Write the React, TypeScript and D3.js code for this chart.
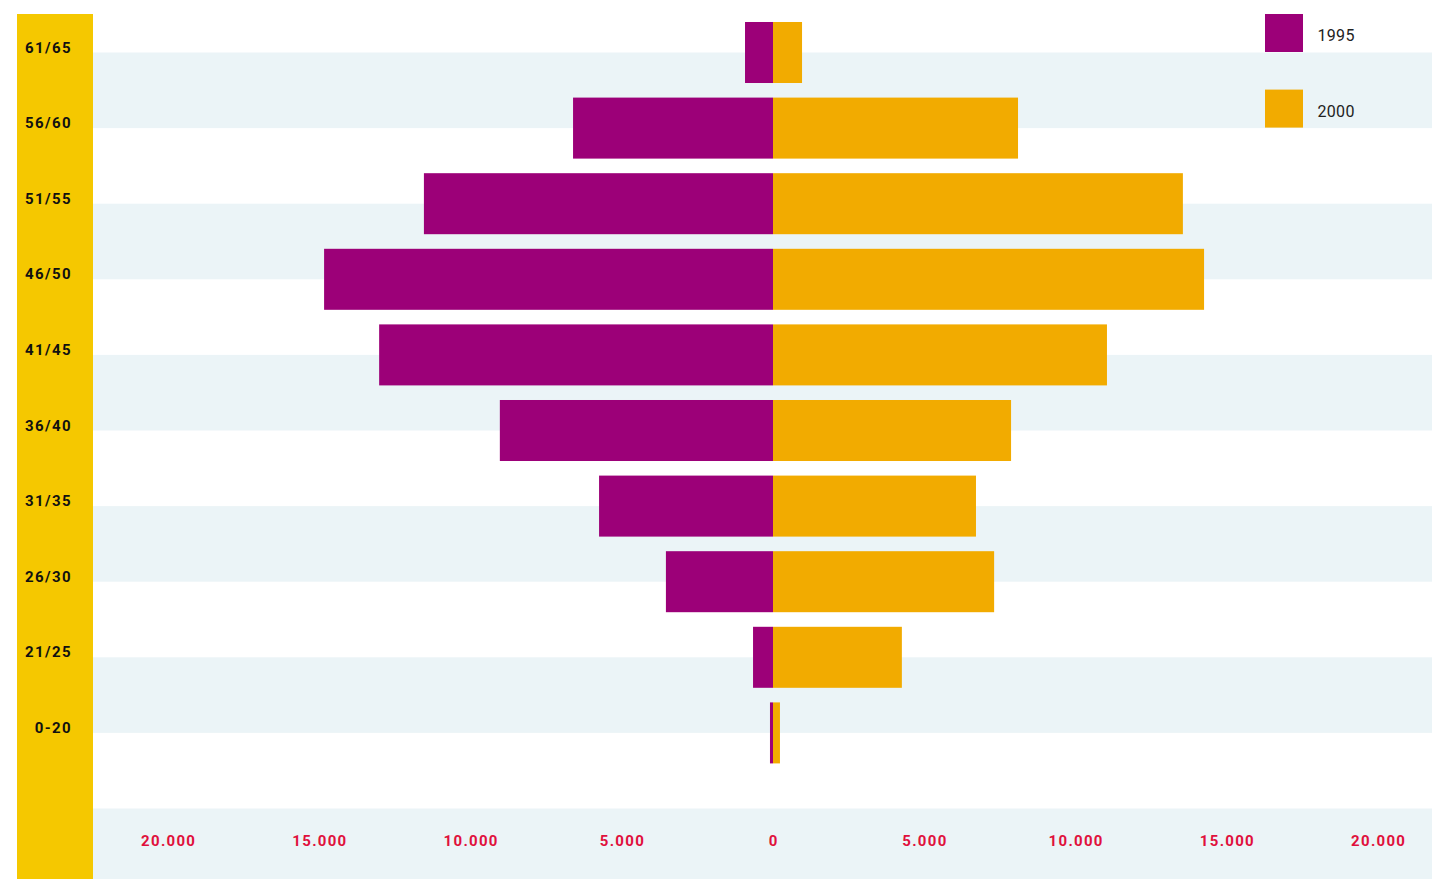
import React from "react";
import * as d3 from "d3";

const categories = ["61/65", "56/60", "51/55", "46/50", "41/45", "36/40", "31/35", "26/30", "21/25", "0-20"];
const values1995 = [925, 6610, 11540, 14840, 13020, 9030, 5750, 3540, 660, 100];
const values2000 = [960, 8100, 13550, 14250, 11040, 7870, 6710, 7310, 4260, 230];
const tickValues = [-20000, -15000, -10000, -5000, 0, 5000, 10000, 15000, 20000];
const seriesNames = ["1995", "2000"];

const W = 1432;
const H = 879;
const PURPLE = "#9C0078";
const ORANGE = "#F2AB00";
const YELLOW = "#F5C800";
const STRIPE = "#EBF4F7";
const RED = "#E0103C";

const fmt = (v: number) => {
  const a = Math.abs(v);
  return a === 0 ? "0" : d3.format(",")(a).replace(/,/g, ".");
};

export default function App() {
  const x = d3.scaleLinear().domain([-20000, 20000]).range([168, 1378]);
  const y = d3
    .scaleBand<string>()
    .domain(categories)
    .range([14.7, 770.7])
    .paddingInner(0.193)
    .paddingOuter(0.0965);
  const step = y.step();
  const bw = y.bandwidth();
  const center = (i: number) => 14.7 + step * 0.5 + step * i;

  const stripes: number[] = [];
  for (let i = 0; i <= 10; i += 2) stripes.push(i);

  return (
    <svg
      width={W}
      height={H}
      style={{ position: "absolute", left: 0, top: 0, display: "block" }}
      fontFamily="Roboto, 'Open Sans', sans-serif"
    >
      <rect x={0} y={0} width={W} height={H} fill="#fff" />
      {stripes.map((i) => (
        <rect key={i} x={93} y={center(i)} width={W - 93} height={step} fill={STRIPE} />
      ))}
      <rect x={17} y={14} width={76} height={H - 14} fill={YELLOW} />
      {categories.map((c, i) => (
        <g key={c}>
          <rect
            x={x(-values1995[i])}
            y={y(c)}
            width={x(0) - x(-values1995[i])}
            height={bw}
            fill={PURPLE}
          />
          <rect x={x(0)} y={y(c)} width={x(values2000[i]) - x(0)} height={bw} fill={ORANGE} />
          <text
            x={72}
            y={(y(c) as number) + bw / 2}
            textAnchor="end"
            fontSize={15}
            fontWeight={700}
            letterSpacing={1.4}
            fill="#111"
          >
            {c}
          </text>
        </g>
      ))}
      {tickValues.map((t) => (
        <text
          key={t}
          x={x(t) + 0.7}
          y={846}
          textAnchor="middle"
          fontSize={15}
          fontWeight={700}
          letterSpacing={1.3}
          fill={RED}
        >
          {fmt(t)}
        </text>
      ))}
      {seriesNames.map((s, i) => (
        <g key={s}>
          <rect x={1265} y={y(categories[0])! - 8 + step * i} width={38} height={38} fill={i === 0 ? PURPLE : ORANGE} />
          <text x={1317.5} y={41 + step * i} fontSize={16} letterSpacing={0.3} fill="#222">
            {s}
          </text>
        </g>
      ))}
    </svg>
  );
}
